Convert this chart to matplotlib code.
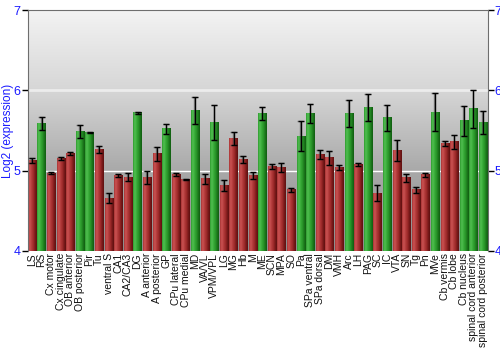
import numpy as np
import matplotlib.pyplot as plt
from matplotlib.colors import LinearSegmentedColormap

plt.rcParams['font.family'] = ['Liberation Sans', 'DejaVu Sans']

# Brain regions and their log2 expression values
regions = [
    "LS", "RS", "Cx motor", "Cx cingulate", "OB anterior", "OB posterior", "Pir", "Tu",
    "ventral S", "CA1", "CA2/CA3", "DG", "A anterior", "A posterior", "GP", "CPu lateral",
    "CPu medial", "MD", "VA/VL", "VPM/VPL", "LG", "MG", "Hb", "M", "ME", "SCN", "MPA",
    "SO", "Pa", "SPa ventral", "SPa dorsal", "DM", "VMH", "Arc", "LH", "PAG", "SC", "IC",
    "VTA", "SN", "Tg", "Pn", "MVe", "Cb vermis", "Cb lobe", "Cb nucleus",
    "spinal cord anterior", "spinal cord posterior",
]
expression = [
    5.13, 5.59, 4.97, 5.15, 5.21, 5.49, 5.48, 5.26,
    4.66, 4.94, 4.92, 5.72, 4.91, 5.21, 5.52, 4.95,
    4.89, 5.75, 4.90, 5.60, 4.82, 5.40, 5.14, 4.94, 5.71, 5.05, 5.04,
    4.76, 5.43, 5.71, 5.20, 5.16, 5.04, 5.71, 5.08, 5.79, 4.72, 5.66,
    5.25, 4.91, 4.76, 4.95, 5.73, 5.34, 5.36, 5.62,
    5.77, 5.60,
]
errors = [
    0.03, 0.08, 0.015, 0.015, 0.02, 0.08, 0.005, 0.045,
    0.06, 0.015, 0.05, 0.015, 0.08, 0.09, 0.06, 0.015,
    0.005, 0.17, 0.06, 0.22, 0.07, 0.08, 0.04, 0.04, 0.08, 0.03, 0.055,
    0.025, 0.19, 0.12, 0.055, 0.085, 0.03, 0.165, 0.02, 0.17, 0.10, 0.16,
    0.13, 0.05, 0.035, 0.025, 0.235, 0.033, 0.09, 0.185,
    0.235, 0.145,
]
# 'g' = green group, 'r' = red group
groups = list("rgrrrggrrrrgrrgrrgrgrrrrgrrrggrrrgrgrgrrrrgrrggg")

ymin, ymax = 4, 7
bar_w = 0.86

red_cmap = LinearSegmentedColormap.from_list(
    "red_bar", ["#a83434", "#cc5454", "#b43c3c", "#a02c2c", "#7a1a1a", "#5e1010"])
green_cmap = LinearSegmentedColormap.from_list(
    "green_bar", ["#2e9a2e", "#52c052", "#3aac3a", "#2a982a", "#1c781c", "#105c10"])
bg_cmap = LinearSegmentedColormap.from_list(
    "bg", ["#f3f3f3", "#d6d6d6", "#a9a9a9", "#8c8c8c"])

fig = plt.figure(figsize=(5, 3.5), dpi=100)
ax = fig.add_axes([0.055, 0.283, 0.92, 0.688])

x = np.arange(len(regions))
xlo, xhi = -0.46, len(regions) - 0.54

# background gradient: dark at the bottom, light at the top
grad = np.linspace(1, 0, 256).reshape(-1, 1)
ax.imshow(grad, cmap=bg_cmap, aspect="auto", extent=(xlo, xhi, ymin, ymax),
          origin="lower", zorder=0, interpolation="bicubic")

ax.axhline(6, color="#ececec", lw=2, zorder=1)
ax.axhline(5, color="white", lw=1, zorder=1)

# cylinder-shaded bars
shade = np.linspace(0, 1, 64).reshape(1, -1)
for xi, val, g in zip(x, expression, groups):
    cmap = green_cmap if g == "g" else red_cmap
    ax.imshow(shade, cmap=cmap, aspect="auto",
              extent=(xi - bar_w / 2, xi + bar_w / 2, ymin, val),
              zorder=2, interpolation="bilinear")

# error bars with a soft shadow
ax.errorbar(x - 0.08, expression, yerr=errors, fmt="none", ecolor="#555555",
            elinewidth=1, capsize=2.5, capthick=1, alpha=0.6, zorder=3)
ax.errorbar(x, expression, yerr=errors, fmt="none", ecolor="black",
            elinewidth=1, capsize=2.5, capthick=1, zorder=4)

ax.set_xlim(xlo, xhi)
ax.set_ylim(ymin, ymax)

ax.set_xticks(x)
ax.set_xticklabels(regions, rotation=90, fontsize=7.5, color="#111111")
ax.tick_params(axis="x", length=0, pad=1.5)

ax.set_yticks([4, 5, 6, 7])
ax.tick_params(axis="y", colors="black", labelcolor="#1a1aff", labelsize=9,
               length=4, width=1, direction="out", right=True, labelright=True, pad=1)
ax.set_ylabel("Log2 (expression)", color="#1a1aff", fontsize=8.5)
ax.yaxis.set_label_coords(-0.03, 0.5)

for side in ["left", "right", "top"]:
    ax.spines[side].set_color("#6e6e6e")
ax.spines["bottom"].set_visible(False)

fig.savefig("out.png", dpi=100)
